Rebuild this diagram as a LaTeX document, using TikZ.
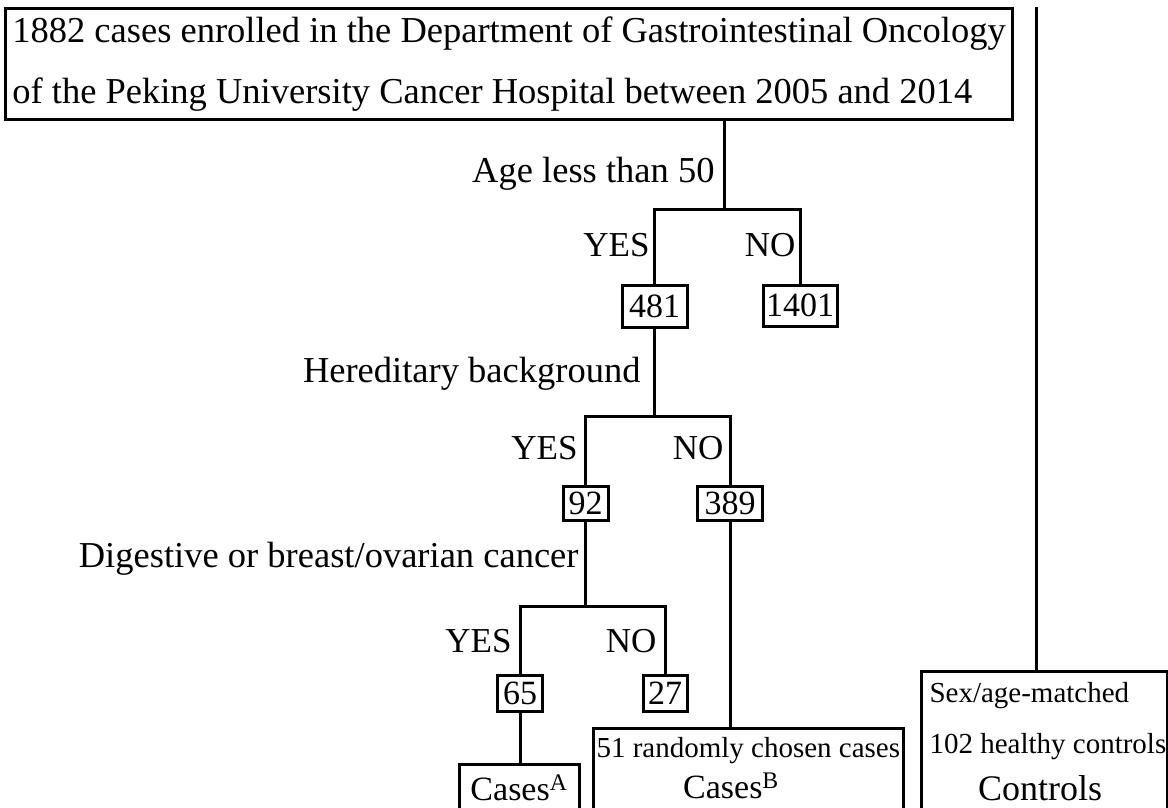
\documentclass[tikz,border=0pt]{standalone}
\usepackage{fontspec}
\setmainfont{Liberation Serif}
\newcommand{\bigtxt}{\fontsize{36.5}{61}\selectfont}
\newcommand{\yntxt}{\fontsize{35}{40}\selectfont}
\newcommand{\numtxt}{\fontsize{34}{40}\selectfont}
\newcommand{\smalltxt}{\fontsize{29}{34}\selectfont}
\newcommand{\ctltxt}{\fontsize{36}{40}\selectfont}
\begin{document}
\begin{tikzpicture}[x=1pt,y=-1pt,line width=3pt,
  box/.style={draw,line width=3pt,inner sep=0pt},
  numbox/.style={box,font=\numtxt},
  lbl/.style={inner sep=0pt,anchor=base east,font=\bigtxt},
  yn/.style={inner sep=0pt,anchor=base east,font=\yntxt},
  txt/.style={inner sep=0pt}]
\useasboundingbox (0,0) rectangle (1168,808);
\clip (0,0) rectangle (1168,808);
% top box
\node[box,anchor=north west,minimum width=1007pt,minimum height=111pt,align=left,font=\bigtxt] (top) at (4,7)
 {1882 cases enrolled in the Department of Gastrointestinal Oncology\\of the Peking University Cancer Hospital between 2005 and 2014};
% number boxes
\node[numbox,minimum width=65pt,minimum height=42pt] (n481) at (654.5,306) {481};
\node[numbox,minimum width=74pt,minimum height=41pt] (n1401) at (800,305.5) {1401};
\node[numbox,minimum width=45pt,minimum height=34pt] (n92) at (585.5,503) {92};
\node[numbox,minimum width=65pt,minimum height=34pt] (n389) at (730,503) {389};
\node[numbox,minimum width=45pt,minimum height=36pt] (n65) at (520,693) {65};
\node[numbox,minimum width=44pt,minimum height=36pt] (n27) at (665,693) {27};
% bottom boxes
\node[box,anchor=north west,minimum width=120pt,minimum height=90pt] (casesA) at (458,763) {};
\node[box,anchor=north west,minimum width=310pt,minimum height=130pt] (casesB) at (592,727) {};
\node[box,anchor=north west,minimum width=246pt,minimum height=180pt] (controls) at (920,670) {};
% texts in bottom boxes
\node[txt,anchor=base,font=\numtxt] (tA) at (519,800) {Cases\textsuperscript{A}};
\node[txt,anchor=base west,font=\smalltxt] (tB1) at (595,757) {51 randomly chosen cases};
\node[txt,anchor=base,font=\numtxt] (tB2) at (731,798) {Cases\textsuperscript{B}};
\node[txt,anchor=base west,font=\smalltxt] (tC1) at (928,702) {Sex/age-matched};
\node[txt,anchor=base west,font=\smalltxt] (tC2) at (928,753) {102 healthy controls};
\node[txt,anchor=base,font=\ctltxt] (tC3) at (1040,800) {Controls};
% junctions
\coordinate (j1) at (724,209);
\coordinate (j2) at (655,416);
\coordinate (j3) at (588,606);
\coordinate (ctop) at (1036,7);
% connectors
\draw (top.south -| j1) -- (j1);
\draw (n481.north) |- (j1) -| (n1401.north);
\draw (n481.south) -- (n481.south |- j2);
\draw (n92.north) |- (j2) -| (n389.north);
\draw (n92.south) -- (n92.south |- j3);
\draw (n65.north) |- (j3) -| (n27.north);
\draw (n65.south) -- (n65.south |- casesA.north);
\draw (n389.south) -- (n389.south |- casesB.north);
\draw (ctop) -- (ctop |- controls.north);
% labels
\node[lbl] (q1) at (716,182) {Age less than 50};
\node[yn] (y1) at (651,256) {YES};
\node[yn] (no1) at (797,256) {NO};
\node[lbl] (q2) at (642,382) {Hereditary background};
\node[yn] (y2) at (579,459) {YES};
\node[yn] (no2) at (725,459) {NO};
\node[lbl] (q3) at (580,567) {Digestive or breast/ovarian cancer};
\node[yn] (y3) at (513,652) {YES};
\node[yn] (no3) at (658,652) {NO};
\end{tikzpicture}
\end{document}
